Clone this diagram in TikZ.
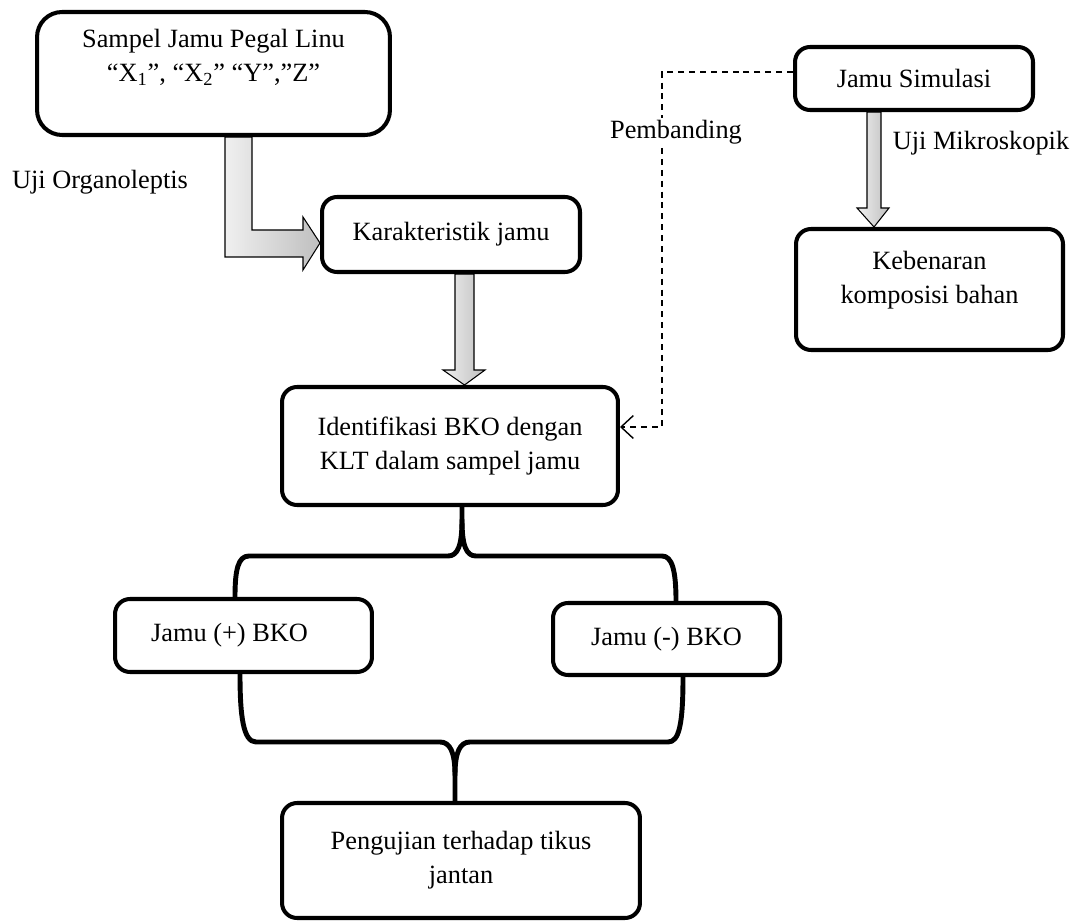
\documentclass[tikz,border=0pt]{standalone}
\usepackage{fontspec}
\setmainfont{Liberation Serif}
\usetikzlibrary{arrows.meta,calc,backgrounds}

\begin{document}
\begin{tikzpicture}[
    x=0.02cm, y=-0.02cm,
    every node/.style={font=\fontsize{15}{19.5}\selectfont},
    process/.style={
        rectangle,
        draw,
        line width=2.3pt,
        rounded corners=0.3cm,
        fill=white,
        align=center,
        inner sep=2pt
    },
    blockarrow/.style={draw, line width=0.6pt, left color=gray!12, right color=gray!50},
    bracket/.style={line width=2.8pt, line cap=round, line join=round},
    dashline/.style={dash pattern=on 3.4pt off 2.8pt, line width=0.8pt,
        -{Straight Barb[length=7pt,width=13pt]}},
    note/.style={fill=white, inner sep=1pt}
]
\useasboundingbox (0,0) rectangle (1079,922);

% Nodes
\node (sampel) [process, rounded corners=0.5cm, minimum width=7.06cm, minimum height=2.46cm] at (213.5,73.5)
{Sampel Jamu Pegal Linu\\“X\textsubscript{1}”, “X\textsubscript{2}” “Y”,”Z”\\[1pt]\mbox{}};

\node (karakter) [process, minimum width=5.16cm, minimum height=1.5cm] at (451,234.5)
{Karakteristik jamu};

\node (identif) [process, minimum width=6.72cm, minimum height=2.36cm] at (450,446)
{Identifikasi BKO dengan\\KLT dalam sampel jamu};

\node (simulasi) [process, minimum width=4.76cm, minimum height=1.26cm] at (914,78.5)
{Jamu Simulasi};

\node (kebenaran) [process, minimum width=5.34cm, minimum height=2.42cm] at (929.5,289.5)
{Kebenaran\\komposisi bahan\\[-6pt]\mbox{}};

\node (plus) [process, minimum width=5.14cm, minimum height=1.46cm] at (243.5,635.5)
{Jamu (+) BKO\kern0.56cm};

\node (minus) [process, minimum width=4.54cm, minimum height=1.44cm] at (666.5,639)
{Jamu (-) BKO};

\node (tikus) [process, minimum width=7.16cm, minimum height=2.3cm] at (461,860.5)
{Pengujian terhadap tikus\\jantan};

% Labels
\node (organo) at (100,182) {Uji Organoleptis};
\node (mikro) at (981,143) {Uji Mikroskopik};

% Dashed comparison line
\coordinate (belok) at (662,427);
\draw [dashline] ([yshift=0.13cm]simulasi.west) -| (belok) -- (belok -| identif.east);
\node (banding) [note] at (676,132) {Pembanding};

% Block arrows
\begin{scope}[on background layer]
\draw [blockarrow] (225,0 |- sampel.south) -- (252,0 |- sampel.south) -- (252,230) -- (303,230)
    -- (303,217) -- (karakter.west |- 0,243) -- (303,270) -- (303,257) -- (225,257) -- cycle;
\draw [blockarrow] (455,0 |- karakter.south) -- (474,0 |- karakter.south) -- (474,370) -- (485,370)
    -- (464.5,0 |- identif.north) -- (443,370) -- (455,370) -- cycle;
\draw [blockarrow] (867,0 |- simulasi.south) -- (881,0 |- simulasi.south) -- (881,208) -- (889,208)
    -- (874,0 |- kebenaran.north) -- (857,208) -- (867,208) -- cycle;
\end{scope}

% Brackets
\draw [bracket] (462,0 |- identif.south) -- (462,520) .. controls (462,545) and (458,556) .. (448,556)
    -- (249,556) .. controls (238,556) and (235,570) .. (235,0 |- plus.north);
\draw [bracket] (462,520) .. controls (462,545) and (466,556) .. (476,556)
    -- (662,556) .. controls (672,556) and (676,570) .. (676,0 |- minus.north);
\draw [bracket] (240,0 |- plus.south) .. controls (240,715) and (243,742) .. (256,742)
    -- (440,742) .. controls (450,742) and (455,752) .. (455,775) -- (455,0 |- tikus.north);
\draw [bracket] (683,0 |- minus.south) .. controls (683,725) and (679,742) .. (668,742)
    -- (470,742) .. controls (460,742) and (455,752) .. (455,775);

\end{tikzpicture}
\end{document}
